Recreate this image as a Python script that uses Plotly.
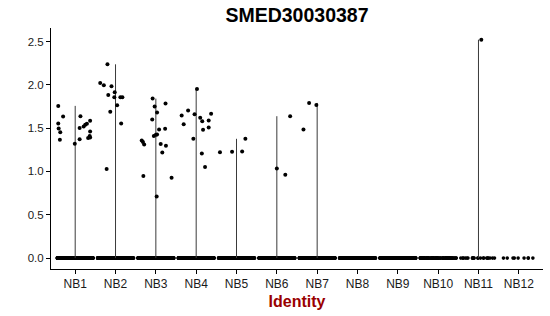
import plotly.graph_objects as go

categories = ["NB1", "NB2", "NB3", "NB4", "NB5", "NB6", "NB7", "NB8", "NB9", "NB10", "NB11", "NB12"]

# non-zero expression values per identity
nb1_values = [1.757, 1.634, 1.553, 1.496, 1.454, 1.365, 1.319, 1.638, 1.503, 1.373, 1.520, 1.540, 1.552, 1.584, 1.461, 1.408, 1.385, 1.392]
nb2_values = [2.237, 2.022, 1.995, 1.985, 1.915, 1.884, 1.857, 1.857, 1.857, 1.765, 1.690, 1.553, 1.027]
nb3_values = [1.841, 1.749, 1.784, 1.680, 1.599, 1.357, 1.339, 1.311, 1.408, 1.423, 1.427, 1.484, 1.492, 1.316, 1.296, 1.219, 0.947, 0.927, 0.712]
nb4_values = [1.953, 1.645, 1.703, 1.546, 1.661, 1.619, 1.581, 1.665, 1.588, 1.507, 1.480, 1.377, 1.207, 1.051]
nb5_values = [1.223, 1.227, 1.230, 1.377]
nb6_values = [1.638, 1.035, 0.962]
nb7_values = [1.791, 1.768, 1.484]
nb8_values = []
nb9_values = []
nb10_values = []
nb11_values = [2.521]
nb12_values = []

# horizontal jitter of the non-zero points
nb1_jitter = [-0.42, -0.30, -0.42, -0.41, -0.37, -0.38, -0.01, 0.13, 0.11, 0.11, 0.21, 0.25, 0.29, 0.37, 0.37, 0.36, 0.32, 0.37]
nb2_jitter = [-0.20, -0.38, -0.29, -0.10, -0.02, -0.18, -0.03, 0.12, 0.17, 0.04, -0.13, 0.14, -0.22]
nb3_jitter = [-0.08, -0.03, 0.24, 0.03, -0.09, -0.35, -0.32, -0.29, -0.05, 0.00, 0.03, 0.08, 0.23, 0.12, 0.25, 0.16, -0.31, 0.39, 0.02]
nb4_jitter = [0.02, -0.36, -0.20, -0.31, -0.04, 0.10, 0.15, 0.37, 0.31, 0.31, 0.17, -0.07, 0.14, 0.22]
nb5_jitter = [-0.41, -0.11, 0.14, 0.22]
nb6_jitter = [0.33, 0.00, 0.21]
nb7_jitter = [-0.20, -0.02, -0.34]
nb8_jitter = []
nb9_jitter = []
nb10_jitter = []
nb11_jitter = [0.07]
nb12_jitter = []

# number of cells with zero expression per identity (estimated)
zero_counts = [320, 320, 320, 300, 280, 260, 280, 260, 200, 90, 22, 9]

values = [nb1_values, nb2_values, nb3_values, nb4_values, nb5_values, nb6_values,
          nb7_values, nb8_values, nb9_values, nb10_values, nb11_values, nb12_values]
jitters = [nb1_jitter, nb2_jitter, nb3_jitter, nb4_jitter, nb5_jitter, nb6_jitter,
           nb7_jitter, nb8_jitter, nb9_jitter, nb10_jitter, nb11_jitter, nb12_jitter]

FONT = "Liberation Sans, Arial, Helvetica, sans-serif"

fig = go.Figure()

# thin "violins": extend from 0 to the group maximum
for i, vals in enumerate(values):
    pos = i + 1
    if vals:
        fig.add_trace(go.Scatter(
            x=[pos, pos], y=[0, max(vals)], mode="lines",
            line=dict(color="#3a3a3a", width=1), hoverinfo="skip", showlegend=False))

# zero-valued cells, jittered by plotly's box points
for i, n in enumerate(zero_counts):
    pos = i + 1
    fig.add_trace(go.Box(
        x=[pos] * n, y=[0] * n, width=0.9, boxpoints="all", jitter=1, pointpos=0,
        marker=dict(color="black", size=3.6, line=dict(width=0)),
        line=dict(width=0), fillcolor="rgba(0,0,0,0)", whiskerwidth=0,
        hoverinfo="skip", showlegend=False))

# non-zero cells
for i, (vals, jit) in enumerate(zip(values, jitters)):
    pos = i + 1
    if vals:
        fig.add_trace(go.Scatter(
            x=[pos + j for j in jit], y=vals, mode="markers",
            marker=dict(color="black", size=4, line=dict(width=0)),
            hoverinfo="skip", showlegend=False))

fig.update_layout(
    width=550, height=316,
    margin=dict(l=51, r=7, t=28, b=47),
    paper_bgcolor="white", plot_bgcolor="white",
    boxmode="overlay",
    font=dict(family=FONT, color="black"),
    title=dict(text="<b>SMED30030387</b>", x=0.54, xref="container", xanchor="center",
               y=0.975, yref="container", yanchor="top",
               font=dict(size=19.5, family=FONT, color="black")),
    xaxis=dict(
        range=[0.4, 12.6], tickmode="array", tickvals=list(range(1, 13)), ticktext=categories,
        showline=True, linecolor="black", linewidth=1, ticks="outside", ticklen=4,
        tickcolor="black", showgrid=False, zeroline=False,
        tickfont=dict(size=12, family=FONT, color="#1a1a1a"),
        title=dict(text="<b>Identity</b>", font=dict(size=16, family=FONT, color="#990000"), standoff=5)),
    yaxis=dict(
        range=[-0.126, 2.656], tickmode="array", tickvals=[0, 0.5, 1, 1.5, 2, 2.5],
        ticktext=["0.0", "0.5", "1.0", "1.5", "2.0", "2.5"],
        showline=True, linecolor="black", linewidth=1, ticks="outside", ticklen=4,
        tickcolor="black", showgrid=False, zeroline=False,
        tickfont=dict(size=11.5, family=FONT, color="#1a1a1a")),
)

fig.write_html("out.html")
